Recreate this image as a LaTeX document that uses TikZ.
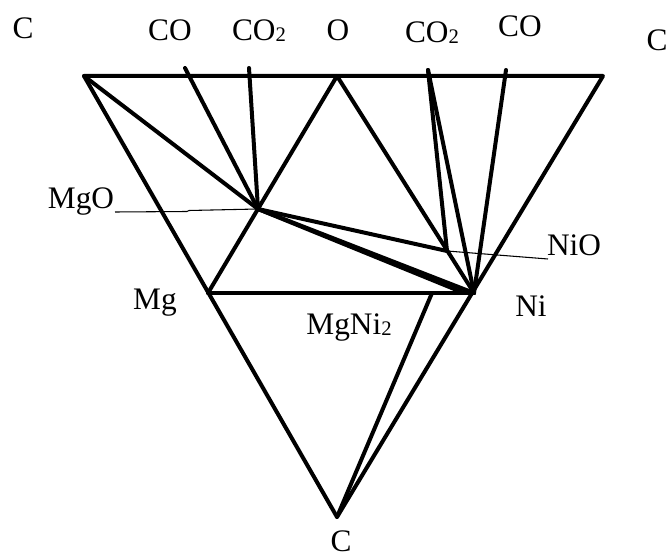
\documentclass[tikz,border=0pt]{standalone}
\usepackage{fontspec}
\setmainfont{Liberation Serif}
\newcommand\subtwo{\raisebox{-0.6pt}{\fontsize{15.5}{15.5}\selectfont 2}}
\begin{document}
\begin{tikzpicture}[x=0.75pt,y=-0.75pt,
  thick line/.style={line width=3pt,line cap=round,line join=round},
  thin line/.style={line width=0.8pt},
  lbl/.style={inner sep=0pt,font=\fontsize{23.5}{23.5}\selectfont}]
\useasboundingbox (0,0) rectangle (666,559);
% points
\coordinate (TL) at (84,76);
\coordinate (TR) at (603,76);
\coordinate (O) at (337,76);
\coordinate (Cb) at (337,517);
\coordinate (Mg) at (208,293);
\coordinate (Ni) at (474,293);
\coordinate (MN) at (432,293);
\coordinate (MNb) at (464,293);
\coordinate (MgO) at (258,209);
\coordinate (NiO) at (447,251);
\coordinate (co1) at (185,68);
\coordinate (cot1) at (249,68);
\coordinate (cot2) at (428,70);
\coordinate (co2) at (506,70);
\coordinate (mgoA) at (115,212);
\coordinate (mgoB) at (187,211.5);
\coordinate (mgoC) at (189,210.5);
\coordinate (nioE) at (548,259);
% main triangle
\draw[thick line] (TL) -- (TR) -- (Cb) -- cycle;
\draw[thick line] (Mg) -- (Ni);
\draw[thick line] (Mg) -- (O) -- (Ni);
% left fan
\draw[thick line] (TL) -- (MgO);
\draw[thick line] (co1) -- (MgO);
\draw[thick line] (cot1) -- (MgO);
\draw[thick line] (MgO) -- (NiO);
\draw[thick line] (MgO) -- (Ni);
\draw[thick line] (MgO) -- (MNb);
% right fan
\draw[thick line] (cot2) -- (NiO);
\draw[thick line] (cot2) -- (Ni);
\draw[thick line] (co2) -- (Ni);
% bottom
\draw[thick line] (MN) -- (Cb);
% label leaders
\draw[thin line] (mgoA) -- (mgoB) -- (mgoC) -- (MgO);
\draw[thin line] (NiO) -- (nioE);
% labels
\node[lbl] (lC1) at (23,28) {C};
\node[lbl] (lCO1) at (170,30) {CO};
\node[lbl] (lCOt1) at (259,31) {CO\subtwo};
\node[lbl] (lO) at (338,30) {O};
\node[lbl] (lCOt2) at (432,33) {CO\subtwo};
\node[lbl] (lCO2) at (520,26) {CO};
\node[lbl] (lC2) at (657,40) {C};
\node[lbl] (lMgO) at (81,202) {MgO};
\node[lbl] (lMg) at (155,303) {Mg};
\node[lbl] (lMgNi) at (349,328) {MgNi\subtwo};
\node[lbl] (lNi) at (531,306) {Ni};
\node[lbl] (lNiO) at (574,245) {NiO};
\node[lbl] (lC3) at (341,541) {C};
\end{tikzpicture}
\end{document}
